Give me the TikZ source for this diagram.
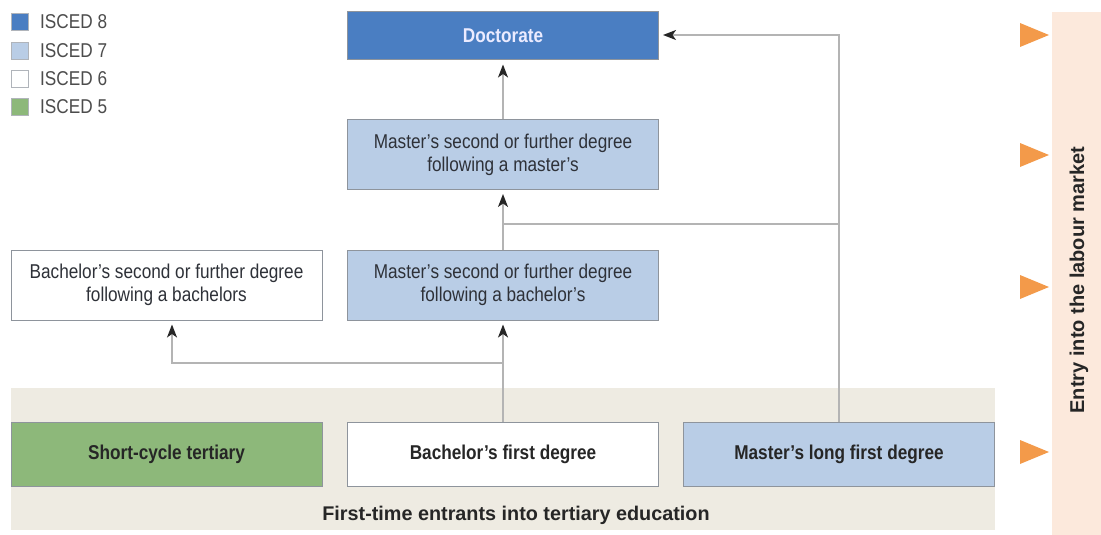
\documentclass[tikz,border=0pt]{standalone}
\usepackage{fontspec}
\setmainfont[FakeStretch=0.86]{Liberation Sans}
\newfontfamily\widefont{Liberation Sans}
\usetikzlibrary{arrows.meta}
\definecolor{iscedeight}{HTML}{4A7EC2}
\definecolor{iscedseven}{HTML}{B9CDE6}
\definecolor{iscedfive}{HTML}{8DB87A}
\definecolor{bandbeige}{HTML}{EEEBE2}
\definecolor{bandpink}{HTML}{FCE9DC}
\definecolor{triorange}{HTML}{F39A4A}
\definecolor{boxline}{HTML}{8E949C}
\definecolor{connline}{HTML}{B4B4B4}
\definecolor{txtdark}{HTML}{2E3138}
\begin{document}
\begin{tikzpicture}[x=1pt,y=-1pt,
  box/.style={draw=boxline, line width=1pt, minimum width=311pt, inner sep=0pt,
    align=center, text=txtdark, font=\fontsize{20}{23}\selectfont},
  tallbox/.style={box, minimum height=70pt},
  lowbox/.style={box, minimum height=64pt, font=\fontsize{20}{23}\selectfont\bfseries, text=black!85},
  legsq/.style={draw=boxline!70, line width=0.8pt, minimum size=17pt, inner sep=0pt},
  legtxt/.style={anchor=west, inner sep=0pt, text=black!70, font=\fontsize{20}{22}\selectfont},
  conn/.style={draw=connline, line width=1.5pt},
  arr/.style={conn, -{Stealth[length=13pt,width=10pt,inset=3.5pt,color=black!85]}, shorten >=4pt},
  tri/.style={fill=triorange, draw=none}
]
\useasboundingbox (0,0) rectangle (1101,535);
% bands
\fill[bandbeige] (11,388) rectangle (995,530);
\fill[bandpink] (1052,12) rectangle (1101,535);
% legend
\node[legsq, fill=iscedeight] (l8) at (20,22) {};
\node[legtxt] (t8) at (40,22) {ISCED 8};
\node[legsq, fill=iscedseven] (l7) at (20,51) {};
\node[legtxt] (t7) at (40,51) {ISCED 7};
\node[legsq, fill=white] (l6) at (20,79) {};
\node[legtxt] (t6) at (40,79) {ISCED 6};
\node[legsq, fill=iscedfive] (l5) at (20,107) {};
\node[legtxt] (t5) at (40,107) {ISCED 5};
% boxes
\node[box, fill=iscedeight, minimum height=48pt, text=white!92!blue, font=\fontsize{20}{23}\selectfont\bfseries] (doc) at (503,36) {Doctorate};
\node[tallbox, fill=iscedseven] (mm) at (503,154.5) {Master’s second or further degree\\following a master’s};
\node[tallbox, fill=iscedseven] (mb) at (503,285) {Master’s second or further degree\\following a bachelor’s};
\node[tallbox, fill=white] (bs) at (166.5,285) {Bachelor’s second or further degree\\following a bachelors};
\node[lowbox, fill=iscedfive] (sc) at (166.5,454) {Short-cycle tertiary};
\node[lowbox, fill=white] (bf) at (503,454) {Bachelor’s first degree};
\node[lowbox, fill=iscedseven] (ml) at (839,454) {Master’s long first degree};
% captions
\node[inner sep=0pt, text=black!85, font=\widefont\fontsize{19.8}{22}\selectfont\bfseries] (cap) at (516,515) {First-time entrants into tertiary education};
\node[inner sep=0pt, rotate=90, text=black!85, font=\widefont\fontsize{20}{22}\selectfont\bfseries] (lab) at (1079,280) {Entry into the labour market};
% triangles
\foreach \ty/\nm in {35/ta,155/tb,287/tc,452/td}{
  \fill[tri] (1020,\ty-12) -- (1049,\ty) -- (1020,\ty+12) -- cycle;
  \coordinate (\nm) at (1034,\ty);
}
% connectors
\coordinate (j1) at (503,363);
\coordinate (j2) at (503,224);
\coordinate (j3) at (839,224);
\coordinate (j4) at (839,35);
\draw[arr] (bf.north) -- (mb.south);
\draw[arr] (j1) -| ([xshift=5.5pt]bs.south);
\draw[arr] (mb.north) -- (mm.south);
\draw[conn] (j2) -- (j3);
\draw[arr] (ml.north) -- (j4) -- (doc.east |- j4);
\draw[arr] (mm.north) -- (doc.south);
\end{tikzpicture}
\end{document}
